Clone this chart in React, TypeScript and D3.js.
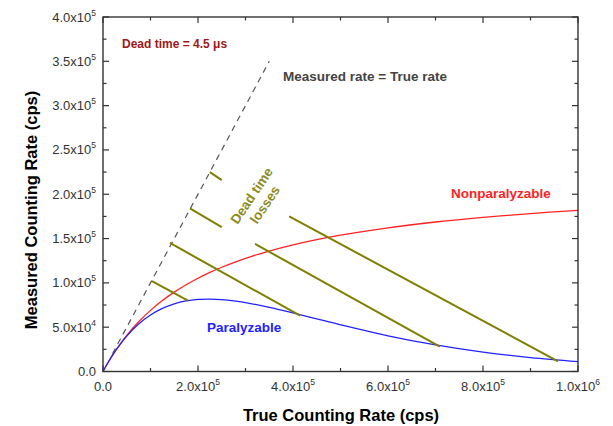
import React from "react";
import * as d3 from "d3";

const W = 613;
const H = 426;

// True counting rate (cps) samples
const trueRate = [0, 10000, 25000, 50000, 75000, 100000, 125000, 150000, 175000, 200000, 225000, 250000, 275000, 300000, 350000, 400000, 450000, 500000, 600000, 700000, 800000, 900000, 1000000];
// Nonparalyzable measured rate (cps)
const nonParalyzable = [0, 9569, 22472, 40816, 56075, 68966, 80000, 89552, 97902, 105263, 111801, 117647, 122905, 127660, 135922, 142857, 148760, 153846, 162162, 168675, 173913, 178218, 181818];
// Paralyzable measured rate (cps)
const paralyzable = [0, 9560, 22340, 39926, 53520, 63763, 71145, 76380, 79620, 81314, 81740, 81170, 79780, 77766, 72450, 66120, 59400, 52700, 40320, 29995, 21860, 15680, 11109];

// Identity (measured = true) dashed line
const identityLine = [[20000, 20000], [350000, 350000]];

// Dead-time loss segments: [x0, y0, x1, y1]
const lossSegments = [
  [103000, 102000, 179000, 80000],
  [141000, 145000, 415000, 63000],
  [183000, 184000, 250000, 163000],
  [225000, 225000, 250000, 216000],
  [320000, 144000, 709000, 28000],
  [392000, 175000, 958000, 11500],
];

const xMajorTicks = [0, 200000, 400000, 600000, 800000, 1000000];
const xMinorTicks = [100000, 300000, 500000, 700000, 900000];
const yMajorTicks = [0, 50000, 100000, 150000, 200000, 250000, 300000, 350000, 400000];
const yMinorTicks = [25000, 75000, 125000, 175000, 225000, 275000, 325000, 375000];

const x = d3.scaleLinear().domain([0, 1000000]).range([103, 578]);
const y = d3.scaleLinear().domain([0, 400000]).range([371.5, 17]);

function sciLabel(v: number) {
  if (v === 0) return { mant: "0.0", exp: null as null | string };
  const e = Math.floor(Math.log10(v) + 1e-9);
  const m = v / Math.pow(10, e);
  return { mant: m.toFixed(1) + "x10", exp: String(e) };
}

export default function App() {
  const line = d3
    .line<[number, number]>()
    .x((d) => x(d[0]))
    .y((d) => y(d[1]))
    .curve(d3.curveCatmullRom.alpha(0.5));
  const npData = trueRate.map((t, i) => [t, nonParalyzable[i]] as [number, number]);
  const pData = trueRate.map((t, i) => [t, paralyzable[i]] as [number, number]);

  const axisColor = "#333";
  const font = "Arial, 'Liberation Sans', sans-serif";
  const majLen = 6;
  const minLen = 3.5;

  return (
    <svg width={W} height={H} style={{ position: "absolute", left: 0, top: 0, background: "#fff" }} fontFamily={font}>
      <defs>
        <clipPath id="plot">
          <rect x={103} y={17} width={475} height={354.5} />
        </clipPath>
      </defs>

      {/* curves */}
      <g clipPath="url(#plot)">
        <path d={line(npData) || ""} fill="none" stroke="#ff2222" strokeWidth={1.3} />
        <path d={line(pData) || ""} fill="none" stroke="#2222ff" strokeWidth={1.3} />
      </g>

      {/* identity dashed line */}
      <line
        x1={x(identityLine[0][0])}
        y1={y(identityLine[0][1])}
        x2={x(identityLine[1][0])}
        y2={y(identityLine[1][1])}
        stroke="#555"
        strokeWidth={1.2}
        strokeDasharray="6,5"
      />

      {/* loss segments */}
      {lossSegments.map((s, i) => (
        <line key={i} x1={x(s[0])} y1={y(s[1])} x2={x(s[2])} y2={y(s[3])} stroke="#7f7f00" strokeWidth={2} />
      ))}

      {/* frame */}
      <rect x={103} y={17} width={475} height={354.5} fill="none" stroke={axisColor} strokeWidth={1.4} />

      {/* x ticks */}
      {xMajorTicks.map((t) => (
        <g key={"xM" + t}>
          <line x1={x(t)} x2={x(t)} y1={371.5} y2={371.5 - majLen} stroke={axisColor} strokeWidth={1.2} />
          <line x1={x(t)} x2={x(t)} y1={17} y2={17 + majLen} stroke={axisColor} strokeWidth={1.2} />
        </g>
      ))}
      {xMinorTicks.map((t) => (
        <g key={"xm" + t}>
          <line x1={x(t)} x2={x(t)} y1={371.5} y2={371.5 - minLen} stroke={axisColor} strokeWidth={1.2} />
          <line x1={x(t)} x2={x(t)} y1={17} y2={17 + minLen} stroke={axisColor} strokeWidth={1.2} />
        </g>
      ))}
      {/* y ticks */}
      {yMajorTicks.map((t) => (
        <g key={"yM" + t}>
          <line x1={103} x2={103 + majLen} y1={y(t)} y2={y(t)} stroke={axisColor} strokeWidth={1.2} />
          <line x1={578} x2={578 - majLen} y1={y(t)} y2={y(t)} stroke={axisColor} strokeWidth={1.2} />
        </g>
      ))}
      {yMinorTicks.map((t) => (
        <g key={"ym" + t}>
          <line x1={103} x2={103 + minLen} y1={y(t)} y2={y(t)} stroke={axisColor} strokeWidth={1.2} />
          <line x1={578} x2={578 - minLen} y1={y(t)} y2={y(t)} stroke={axisColor} strokeWidth={1.2} />
        </g>
      ))}

      {/* x tick labels */}
      {xMajorTicks.map((t) => {
        const l = sciLabel(t);
        return (
          <text key={"xl" + t} x={x(t)} y={391} textAnchor="middle" fontSize={13} fill="#333">
            <tspan>{l.mant}</tspan>
            {l.exp && (
              <tspan fontSize={8.5} dy={-6}>
                {l.exp}
              </tspan>
            )}
          </text>
        );
      })}
      {/* y tick labels */}
      {yMajorTicks.map((t) => {
        const l = sciLabel(t);
        return (
          <text key={"yl" + t} x={96} y={y(t) + 4.5} textAnchor="end" fontSize={13} fill="#333">
            <tspan>{l.mant}</tspan>
            {l.exp && (
              <tspan fontSize={8.5} dy={-6}>
                {l.exp}
              </tspan>
            )}
          </text>
        );
      })}

      {/* axis titles */}
      <text x={341} y={421} textAnchor="middle" fontSize={16.5} fontWeight="bold" fill="#000">
        True Counting Rate (cps)
      </text>
      <text
        transform="translate(37,210) rotate(-90)"
        textAnchor="middle"
        fontSize={16.5}
        fontWeight="bold"
        fill="#000"
      >
        Measured Counting Rate (cps)
      </text>

      {/* annotations */}
      <text x={122} y={48} fontSize={12} fontWeight="bold" fill="#a01818">
        Dead time = 4.5 μs
      </text>
      <text x={283} y={81} fontSize={13.5} fontWeight="bold" fill="#444">
        Measured rate = True rate
      </text>
      <text x={451} y={198} fontSize={13.5} fontWeight="bold" fill="#ff2222">
        Nonparalyzable
      </text>
      <text x={207} y={332} fontSize={13.5} fontWeight="bold" fill="#2222ff">
        Paralyzable
      </text>
      <g transform="translate(258,200) rotate(-56)" fill="#8c8c1c" fontSize={13.5} fontWeight="bold">
        <text x={0} y={-3} textAnchor="middle">
          Dead time
        </text>
        <text x={0} y={13} textAnchor="middle">
          losses
        </text>
      </g>
    </svg>
  );
}
